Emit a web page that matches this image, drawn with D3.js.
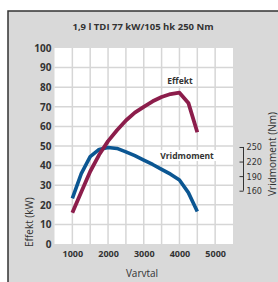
<!DOCTYPE html>
<html>
<head>
<meta charset="utf-8">
<script src="https://cdn.jsdelivr.net/npm/d3@7"></script>
<style>
  body { margin: 0; background: #fff; }
  svg { display: block; }
  text { font-family: "Open Sans", "DejaVu Sans", sans-serif; fill: #333; }
</style>
</head>
<body>
<div id="chart"></div>
<script>
// chart values
var rpm = [1000, 1250, 1500, 1750, 2000, 2250, 2500, 2750, 3000, 3250, 3500, 3750, 4000, 4250, 4500];
var effektKW = [16, 26.5, 37, 45.5, 52.5, 58, 63, 67, 70, 72.8, 75, 76.5, 77.2, 72, 57];
var vridmomentNm = [144, 195, 230, 245, 249, 247, 240, 232, 223, 214, 204, 194, 182, 156, 117];
var xTicks = [1000, 2000, 3000, 4000, 5000];
var yTicks = [0, 10, 20, 30, 40, 50, 60, 70, 80, 90, 100];
var nmTicks = [160, 190, 220, 250];
var title = "1,9 l TDI 77 kW/105 hk 250 Nm";

var W = 278, H = 282;
var svg = d3.select("#chart").append("svg").attr("width", W).attr("height", H);

// grey panel with dark border on left/top
svg.append("rect").attr("x", 8).attr("y", 11).attr("width", W).attr("height", H)
  .attr("fill", "#d9d9d9").attr("stroke", "#333").attr("stroke-width", 1.5);

var x = d3.scaleLinear().domain([500, 5500]).range([54.5, 233]);
var y = d3.scaleLinear().domain([0, 100]).range([244, 48]);
// torque axis shares the plot, 160..250 Nm
var yNm = d3.scaleLinear().domain([160, 250]).range([y(27.2), y(49.5)]);

svg.append("rect").attr("x", x(500)).attr("y", y(100))
  .attr("width", x(5500) - x(500)).attr("height", y(0) - y(100)).attr("fill", "#fff");

// grid
var grid = svg.append("g").attr("stroke", "#d6d6d6").attr("stroke-width", 1.5);
grid.selectAll("line.v").data(d3.range(1000, 5500, 500)).enter().append("line")
  .attr("x1", function(d) { return x(d); }).attr("x2", function(d) { return x(d); })
  .attr("y1", y(100)).attr("y2", y(0));
grid.selectAll("line.h").data(d3.range(10, 100, 10)).enter().append("line")
  .attr("y1", function(d) { return y(d); }).attr("y2", function(d) { return y(d); })
  .attr("x1", x(500)).attr("x2", x(5500));

// axes text
var yAxis = d3.axisLeft(y).tickValues(yTicks).tickSize(0).tickPadding(3);
var gy = svg.append("g").attr("transform", "translate(" + x(500) + ",0)").call(yAxis);
gy.select(".domain").remove();
gy.selectAll("text").style("font-size", "10px").style("font-weight", "700").attr("fill", "#333");

var xAxis = d3.axisBottom(x).tickValues(xTicks).tickFormat(d3.format("d")).tickSize(0).tickPadding(7);
var gx = svg.append("g").attr("transform", "translate(0," + y(0) + ")").call(xAxis);
gx.select(".domain").remove();
gx.selectAll("text").style("font-size", "9px").style("font-weight", "700").attr("fill", "#333");

// curves
var lineKW = d3.line().x(function(d, i) { return x(rpm[i]); }).y(function(d) { return y(d); });
var lineNm = d3.line().x(function(d, i) { return x(rpm[i]); }).y(function(d) { return yNm(d); });

svg.append("path").datum(vridmomentNm).attr("d", lineNm)
  .attr("fill", "none").attr("stroke", "#0b5692").attr("stroke-width", 3.6)
  .attr("stroke-linejoin", "round");
svg.append("path").datum(effektKW).attr("d", lineKW)
  .attr("fill", "none").attr("stroke", "#8c1d4b").attr("stroke-width", 3.8)
  .attr("stroke-linejoin", "round");

// curve labels with white backing
function label(txt, cx, by) {
  var g = svg.append("g");
  var t = g.append("text").attr("x", cx).attr("y", by).attr("text-anchor", "middle")
    .style("font-size", "8.5px").style("font-weight", "700").text(txt);
  var b = t.node().getBBox();
  g.insert("rect", "text").attr("x", b.x - 2).attr("y", b.y).attr("width", b.width + 4)
    .attr("height", b.height).attr("fill", "#fff");
}
label("Effekt", 180, 84);
label("Vridmoment", 187, 159);

// title
svg.append("text").attr("x", 143).attr("y", 30).attr("text-anchor", "middle")
  .style("font-size", "9.5px").style("font-weight", "700").text(title);

// axis titles
svg.append("text").attr("x", 142).attr("y", 277).attr("text-anchor", "middle")
  .style("font-size", "10px").text("Varvtal");
svg.append("text").attr("transform", "translate(33,247) rotate(-90)")
  .style("font-size", "10px").text("Effekt (kW)");
svg.append("text").attr("transform", "translate(276,154) rotate(-90)")
  .attr("text-anchor", "middle").style("font-size", "10px").text("Vridmoment (Nm)");

// torque scale bracket
var nmAxis = d3.axisLeft(yNm).tickValues(nmTicks).tickSize(4).tickPadding(0);
var gn = svg.append("g").attr("transform", "translate(243.5,0)").call(nmAxis);
gn.select(".domain").attr("d", "M0," + yNm(250) + "V" + yNm(160)).attr("stroke", "#333");
gn.selectAll(".tick line").attr("stroke", "#333");
gn.selectAll("text").attr("text-anchor", "start").attr("x", 3)
  .style("font-family", "'Liberation Sans Narrow', 'DejaVu Sans Condensed', sans-serif")
  .style("font-size", "9px").attr("fill", "#333");
</script>
</body>
</html>
